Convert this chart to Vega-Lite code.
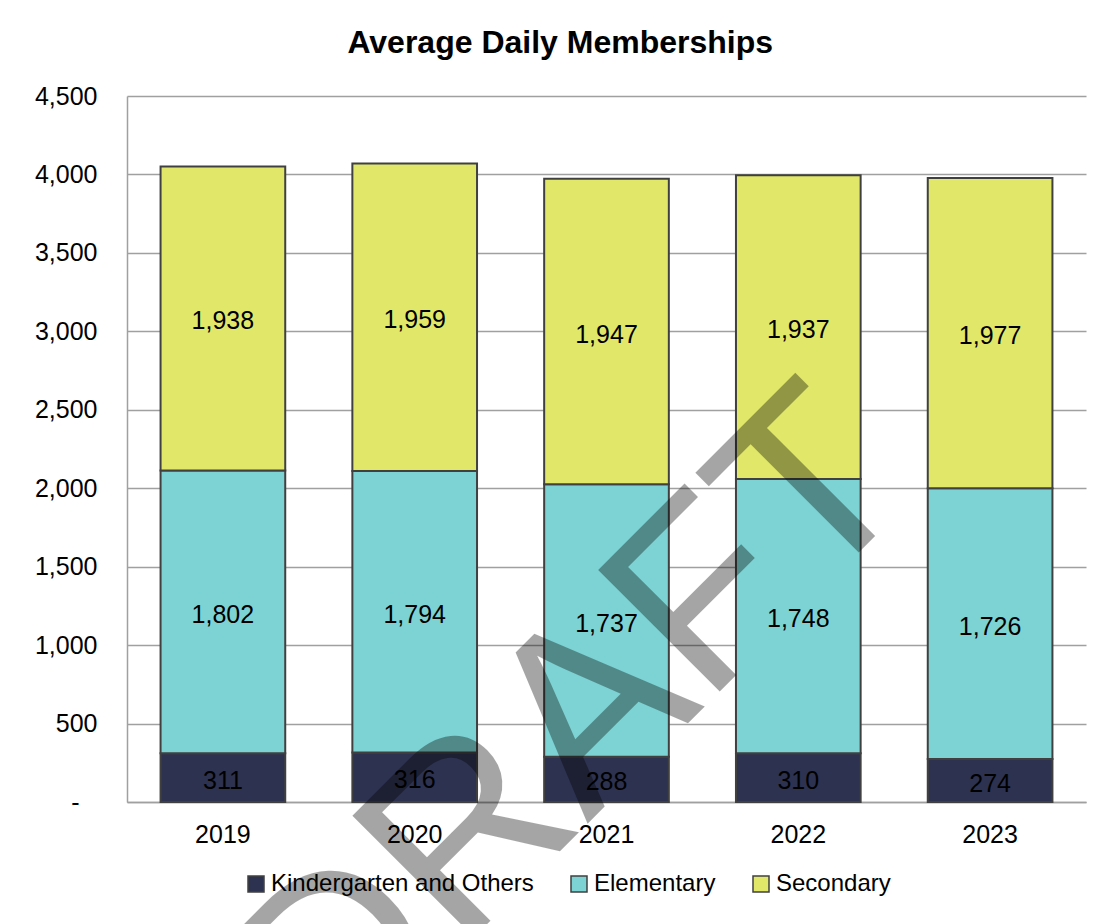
{
  "$schema": "https://vega.github.io/schema/vega-lite/v6.json",
  "width": 959,
  "height": 706,
  "autosize": {"type": "none"},
  "padding": {"left": 127, "top": 96, "right": 22, "bottom": 122},
  "background": "white",
  "title": {
    "text": "Average Daily Memberships",
    "fontSize": 32,
    "font": "Liberation Sans",
    "fontWeight": "bold",
    "color": "black",
    "anchor": "middle",
    "frame": "bounds",
    "offset": 24
  },
  "datasets": {
    "adm": [
      {"year": "2019", "cat": "Kindergarten and Others", "value": 311, "rank": 1},
      {"year": "2019", "cat": "Elementary", "value": 1802, "rank": 2},
      {"year": "2019", "cat": "Secondary", "value": 1938, "rank": 3},
      {"year": "2020", "cat": "Kindergarten and Others", "value": 316, "rank": 1},
      {"year": "2020", "cat": "Elementary", "value": 1794, "rank": 2},
      {"year": "2020", "cat": "Secondary", "value": 1959, "rank": 3},
      {"year": "2021", "cat": "Kindergarten and Others", "value": 288, "rank": 1},
      {"year": "2021", "cat": "Elementary", "value": 1737, "rank": 2},
      {"year": "2021", "cat": "Secondary", "value": 1947, "rank": 3},
      {"year": "2022", "cat": "Kindergarten and Others", "value": 310, "rank": 1},
      {"year": "2022", "cat": "Elementary", "value": 1748, "rank": 2},
      {"year": "2022", "cat": "Secondary", "value": 1937, "rank": 3},
      {"year": "2023", "cat": "Kindergarten and Others", "value": 274, "rank": 1},
      {"year": "2023", "cat": "Elementary", "value": 1726, "rank": 2},
      {"year": "2023", "cat": "Secondary", "value": 1977, "rank": 3}
    ],
    "wm": [
      {"word": "DRAFT", "year": "2021", "pos": 448}
    ]
  },
  "layer": [
    {
      "data": {"name": "adm"},
      "encoding": {
        "x": {
          "field": "year",
          "type": "nominal",
          "scale": {"domain": ["2019", "2020", "2021", "2022", "2023"], "paddingInner": 0.35, "paddingOuter": 0.175},
          "axis": {
            "title": null,
            "labelAngle": 0,
            "labelFont": "Liberation Sans",
            "labelFontSize": 25,
            "labelColor": "black",
            "labelPadding": 20,
            "ticks": false,
            "domain": true,
            "domainColor": "#a0a0a0",
            "domainWidth": 1.5,
            "grid": false
          }
        }
      },
      "layer": [
        {
          "mark": {"type": "bar", "stroke": "#404040", "strokeWidth": 2},
          "encoding": {
            "y": {
              "field": "value",
              "type": "quantitative",
              "stack": "zero",
              "scale": {"domain": [0, 4500], "nice": false},
              "axis": {
                "title": null,
                "values": [0, 500, 1000, 1500, 2000, 2500, 3000, 3500, 4000, 4500],
                "labelExpr": "datum.value == 0 ? '-\u2800' : format(datum.value, ',')",
                "labelFont": "Liberation Sans",
                "labelFontSize": 25,
                "labelColor": "black",
                "labelPadding": 30,
                "ticks": false,
                "domain": true,
                "domainColor": "#a0a0a0",
                "domainWidth": 1.5,
                "grid": true,
                "gridColor": "#a0a0a0",
                "gridWidth": 1.5
              }
            },
            "order": {"field": "rank", "type": "quantitative"},
            "color": {
              "field": "cat",
              "type": "nominal",
              "scale": {
                "domain": ["Kindergarten and Others", "Elementary", "Secondary"],
                "range": ["#2d3250", "#7dd3d3", "#e1e869"]
              },
              "legend": {
                "title": null,
                "orient": "none",
                "legendX": 117,
                "legendY": 776,
                "direction": "horizontal",
                "symbolType": "square",
                "symbolSize": 256,
                "symbolStrokeColor": "#404040",
                "symbolStrokeWidth": 1.5,
                "labelFont": "Liberation Sans",
                "labelFontSize": 24,
                "labelColor": "black",
                "labelOffset": 3,
                "columnPadding": 33,
                "labelLimit": 400
              }
            }
          }
        },
        {
          "transform": [
            {"stack": "value", "groupby": ["year"], "sort": [{"field": "rank", "order": "ascending"}], "as": ["s0", "s1"]},
            {"fold": ["s0", "s1"], "as": ["edge", "pos"]}
          ],
          "mark": {"type": "text", "font": "Liberation Sans", "fontSize": 25, "color": "black", "align": "center", "baseline": "middle", "dy": 3},
          "encoding": {
            "y": {
              "field": "pos",
              "aggregate": "mean",
              "type": "quantitative",
              "stack": null,
              "axis": {
                "title": null,
                "values": [0, 500, 1000, 1500, 2000, 2500, 3000, 3500, 4000, 4500],
                "labelExpr": "datum.value == 0 ? '-\u2800' : format(datum.value, ',')",
                "labelFont": "Liberation Sans",
                "labelFontSize": 25,
                "labelColor": "black",
                "labelPadding": 30,
                "ticks": false,
                "domain": true,
                "domainColor": "#a0a0a0",
                "domainWidth": 1.5,
                "grid": true,
                "gridColor": "#a0a0a0",
                "gridWidth": 1.5
              }
            },
            "detail": {"field": "cat", "type": "nominal"},
            "text": {"field": "value", "type": "quantitative", "format": ","}
          }
        }
      ]
    },
    {
      "data": {"name": "wm"},
      "mark": {"type": "text", "font": "Liberation Sans", "fontSize": 250, "angle": -45, "fill": "black", "opacity": 0.35, "align": "center", "baseline": "middle"},
      "encoding": {
        "x": {"field": "year", "type": "nominal", "bandPosition": 0.235},
        "y": {"field": "pos", "type": "quantitative"},
        "text": {"field": "word", "type": "nominal"}
      }
    }
  ],
  "config": {
    "view": {"stroke": null}
  }
}
